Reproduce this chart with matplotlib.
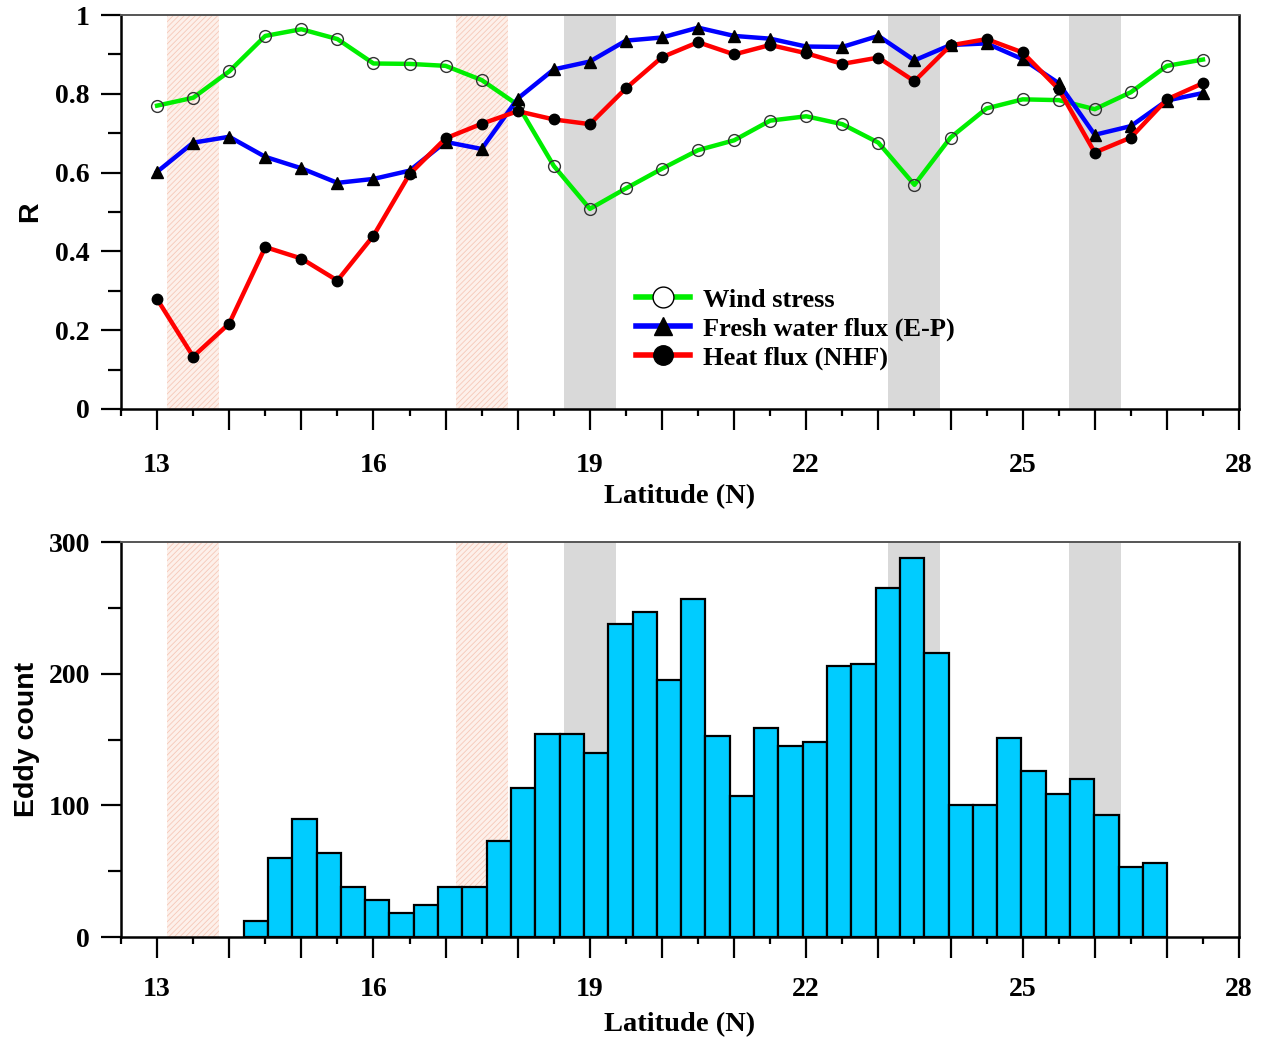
import numpy as np
import matplotlib
matplotlib.use("Agg")
import matplotlib.pyplot as plt
from matplotlib.lines import Line2D
from matplotlib.ticker import MultipleLocator, FuncFormatter

# correlation with eddy activity, latitudes 13N..27.5N every 0.5
lat = np.arange(13, 27.51, 0.5)
wind = [0.77, 0.79, 0.857, 0.947, 0.964, 0.939, 0.877, 0.876, 0.871, 0.835,
        0.772, 0.617, 0.508, 0.560, 0.610, 0.657, 0.682, 0.732, 0.743, 0.723,
        0.676, 0.569, 0.689, 0.763, 0.786, 0.784, 0.761, 0.804, 0.871, 0.887]
fresh = [0.602, 0.676, 0.691, 0.640, 0.611, 0.574, 0.584, 0.605, 0.678, 0.660,
         0.788, 0.862, 0.882, 0.935, 0.943, 0.968, 0.947, 0.940, 0.920, 0.919,
         0.947, 0.885, 0.924, 0.928, 0.888, 0.827, 0.696, 0.718, 0.783, 0.802]
heat = [0.279, 0.133, 0.217, 0.411, 0.382, 0.326, 0.440, 0.596, 0.687, 0.724,
        0.756, 0.735, 0.723, 0.814, 0.893, 0.931, 0.900, 0.924, 0.903, 0.876,
        0.892, 0.832, 0.923, 0.939, 0.905, 0.812, 0.651, 0.689, 0.786, 0.827]

# eddy counts per latitude bin
bin_start = 14.2
bin_width = 0.337
counts = [12, 60, 90, 64, 38, 28, 18, 24, 38, 38, 73, 113, 154, 154, 140,
          238, 247, 195, 257, 153, 107, 159, 145, 148, 206, 207, 265, 288,
          216, 100, 100, 151, 126, 109, 120, 93, 53, 56]

# highlighted latitude bands
pink_bands = [13.5, 17.5]
gray_bands = [19.0, 23.5, 26.0]
band_half = 0.36

serif = "Liberation Serif"
sans = "Liberation Sans"
plt.rcParams["font.family"] = serif
plt.rcParams["font.weight"] = "bold"
plt.rcParams["hatch.linewidth"] = 0.6
plt.rcParams["hatch.color"] = "#f6c8b8"

fig = plt.figure(figsize=(12.7, 10.37), dpi=100)
ax1 = fig.add_axes([0.0953, 0.6056, 0.8803, 0.3799])
ax2 = fig.add_axes([0.0953, 0.0964, 0.8803, 0.3809])


def shade(ax):
    for c in pink_bands:
        ax.axvspan(c - band_half, c + band_half, facecolor="#fdf0ea",
                   hatch="//////", edgecolor="#f6c8b8", linewidth=0, zorder=0)
    for c in gray_bands:
        ax.axvspan(c - band_half, c + band_half, facecolor="#d9d9d9",
                   linewidth=0, zorder=0)


def style(ax, xpad, lpad):
    ax.set_xlim(12.5, 28)
    ax.xaxis.set_major_locator(MultipleLocator(1))
    ax.xaxis.set_minor_locator(MultipleLocator(0.5))
    ax.xaxis.set_major_formatter(
        FuncFormatter(lambda v, p: "%d" % v if round(v - 13) % 3 == 0 else ""))
    ax.tick_params(axis="x", which="major", length=15, width=1.6,
                   direction="out", labelsize=20, pad=xpad)
    ax.tick_params(axis="x", which="minor", length=5, width=1.6,
                   direction="out")
    ax.tick_params(axis="y", which="major", length=14.5, width=1.6,
                   direction="out", labelsize=20, pad=8)
    ax.tick_params(axis="y", which="minor", length=9.5, width=1.6,
                   direction="out")
    for s in ax.spines.values():
        s.set_linewidth(1.8)
    ax.spines["top"].set_color("#555555")
    ax.spines["top"].set_linewidth(1.4)
    ax.set_xlabel("Latitude (N)", fontsize=20.5, fontweight="bold",
                  labelpad=lpad)


# top panel: correlations
shade(ax1)
ax1.plot(lat, wind, color="#00ee00", lw=3.2, marker="o", ms=8.5,
         mfc="none", mec="#333333", mew=1.0, zorder=3)
ax1.plot(lat, fresh, color="#0000ff", lw=3.2, marker="^", ms=8,
         mfc="black", mec="black", zorder=3)
ax1.plot(lat, heat, color="#ff0000", lw=3.2, marker="o", ms=7.5,
         mfc="black", mec="black", zorder=3)
ax1.set_ylim(0, 1)
ax1.yaxis.set_major_locator(MultipleLocator(0.2))
ax1.yaxis.set_minor_locator(MultipleLocator(0.1))
ax1.yaxis.set_major_formatter(FuncFormatter(lambda v, p: "%g" % round(v, 1)))
style(ax1, 17, 4)
ax1.set_ylabel("R", fontsize=20.5, fontweight="bold", family=sans, labelpad=9)

handles = [
    Line2D([], [], color="#00ee00", lw=4, marker="o", ms=15, mfc="white",
           mec="black", mew=1.0),
    Line2D([], [], color="#0000ff", lw=4, marker="^", ms=13, mfc="black",
           mec="black"),
    Line2D([], [], color="#ff0000", lw=4, marker="o", ms=14, mfc="black",
           mec="black"),
]
ax1.legend(handles, ["Wind stress", "Fresh water flux (E-P)", "Heat flux (NHF)"],
           loc="center left", bbox_to_anchor=(0.4605, 0.203), frameon=False,
           prop={"family": serif, "weight": "bold", "size": 19},
           handlelength=2.05, handletextpad=0.5, labelspacing=0.2,
           borderpad=0, borderaxespad=0)

# bottom panel: eddy counts
shade(ax2)
left = bin_start + bin_width * np.arange(len(counts))
ax2.bar(left, counts, width=bin_width, align="edge", color="#00ccff",
        edgecolor="black", linewidth=1.6, zorder=2)
ax2.set_ylim(0, 300)
ax2.yaxis.set_major_locator(MultipleLocator(100))
ax2.yaxis.set_minor_locator(MultipleLocator(50))
style(ax2, 14, 7)
ax2.set_ylabel("Eddy count", fontsize=20.5, fontweight="bold", family=sans,
               labelpad=6)

fig.savefig("out.png", dpi=100)
